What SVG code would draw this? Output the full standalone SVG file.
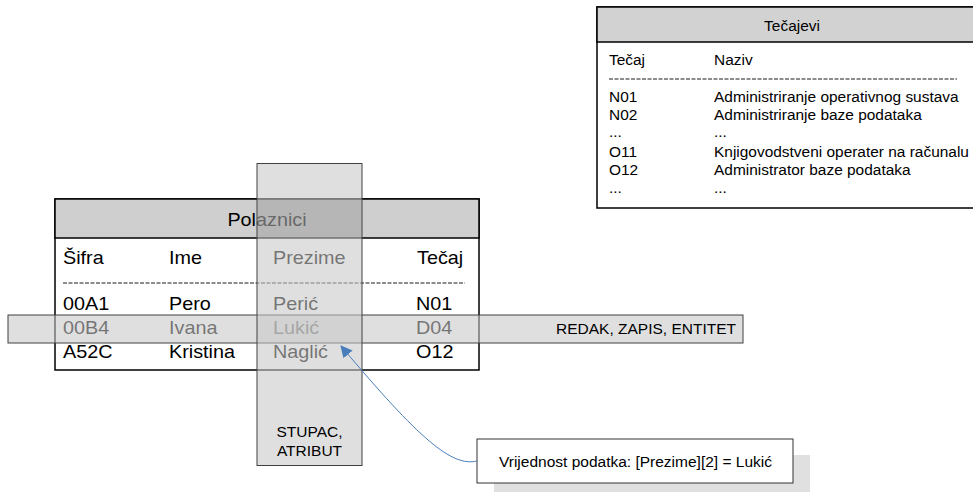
<svg xmlns="http://www.w3.org/2000/svg" width="973" height="492" viewBox="0 0 973 492">
<defs>
<style>
text{font-family:"Liberation Sans",Arial,sans-serif;fill:#000}
.p{font-size:18px}
.k{font-size:15px}
.l{font-size:15.5px}
.dash{stroke:#000;stroke-width:0.9;stroke-dasharray:4,1.5}
.band{fill:#c8c8c8;fill-opacity:0.58;stroke:#404040;stroke-width:1}
</style>
<marker id="ah" viewBox="0 0 12 12" refX="11" refY="6" markerWidth="12" markerHeight="12" markerUnits="userSpaceOnUse" orient="auto">
<path d="M0,0 L12,6 L0,12 z" fill="#4a7ebb"/>
</marker>
</defs>
<rect width="973" height="492" fill="#fff"/>

<g id="tecajevi">
<rect x="597" y="7" width="400" height="201" fill="#fff" stroke="#000" stroke-width="1.5"/>
<rect x="597" y="7" width="400" height="35" fill="#d2d2d2" stroke="#000" stroke-width="1.5"/>
<text class="k" transform="translate(792 31) scale(1.03 1)" text-anchor="middle">Tečajevi</text>
<text class="k" transform="translate(609 65) scale(1.03 1)">Tečaj</text>
<text class="k" transform="translate(714 65) scale(1.03 1)">Naziv</text>
<line class="dash" x1="609" y1="79" x2="957" y2="79"/>
<text class="k" transform="translate(609 102) scale(1.03 1)">N01</text>
<text class="k" transform="translate(714 102) scale(1.03 1)">Administriranje operativnog sustava</text>
<text class="k" transform="translate(609 119.5) scale(1.03 1)">N02</text>
<text class="k" transform="translate(714 119.5) scale(1.03 1)">Administriranje baze podataka</text>
<text class="k" transform="translate(609 137) scale(1.03 1)">...</text>
<text class="k" transform="translate(714 137) scale(1.03 1)">...</text>
<text class="k" transform="translate(609 157) scale(1.03 1)">O11</text>
<text class="k" transform="translate(714 157) scale(1.03 1)">Knjigovodstveni operater na računalu</text>
<text class="k" transform="translate(609 175) scale(1.03 1)">O12</text>
<text class="k" transform="translate(714 175) scale(1.03 1)">Administrator baze podataka</text>
<text class="k" transform="translate(609 193) scale(1.03 1)">...</text>
<text class="k" transform="translate(714 193) scale(1.03 1)">...</text>
</g>

<g id="polaznici">
<rect x="55" y="199" width="424" height="171" fill="#fff" stroke="#000" stroke-width="1.5"/>
<rect x="55" y="199" width="424" height="39" fill="#cfcfcf" stroke="#000" stroke-width="1.5"/>
<text class="p" transform="translate(267 225.5) scale(1.1 1)" text-anchor="middle">Polaznici</text>
<text class="p" transform="translate(63 264) scale(1.1 1)">Šifra</text>
<text class="p" transform="translate(169 264) scale(1.1 1)">Ime</text>
<text class="p" transform="translate(273 264) scale(1.1 1)">Prezime</text>
<text class="p" transform="translate(417 264) scale(1.1 1)">Tečaj</text>
<line class="dash" x1="63" y1="283" x2="465" y2="283"/>
<text class="p" transform="translate(63 310) scale(1.1 1)">00A1</text>
<text class="p" transform="translate(169 310) scale(1.1 1)">Pero</text>
<text class="p" transform="translate(273 310) scale(1.1 1)">Perić</text>
<text class="p" transform="translate(416 310) scale(1.1 1)">N01</text>
<text class="p" transform="translate(63 334) scale(1.1 1)">00B4</text>
<text class="p" transform="translate(169 334) scale(1.1 1)">Ivana</text>
<text class="p" transform="translate(273 334) scale(1.1 1)">Lukić</text>
<text class="p" transform="translate(416 334) scale(1.1 1)">D04</text>
<text class="p" transform="translate(63 358) scale(1.1 1)">A52C</text>
<text class="p" transform="translate(169 358) scale(1.1 1)">Kristina</text>
<text class="p" transform="translate(273 358) scale(1.1 1)">Naglić</text>
<text class="p" transform="translate(416 358) scale(1.1 1)">O12</text>
</g>

<g id="redak">
<rect class="band" x="8" y="315" width="735" height="28"/>
<text class="l" x="736" y="334" text-anchor="end">REDAK, ZAPIS, ENTITET</text>
</g>

<g id="stupac">
<rect class="band" x="257" y="163.5" width="105" height="302"/>
<rect x="257.5" y="199.5" width="104" height="38" fill="#000" fill-opacity="0.1"/>
<text class="l" x="309.5" y="437" text-anchor="middle">STUPAC,</text>
<text class="l" x="309.5" y="456" text-anchor="middle">ATRIBUT</text>
</g>

<g id="vrijednost">
<rect x="494" y="455" width="316" height="45" fill="#e0e0e0"/>
<rect x="477" y="439" width="316" height="44" fill="#fff" stroke="#333" stroke-width="1"/>
<text class="l" x="499" y="467">Vrijednost podatka: [Prezime][2] = Lukić</text>
</g>

<g id="connectors">
<path d="M477,461 C452,467 420,440 341,346" fill="none" stroke="#4a7ebb" stroke-width="1" marker-end="url(#ah)"/>
</g>
</svg>
